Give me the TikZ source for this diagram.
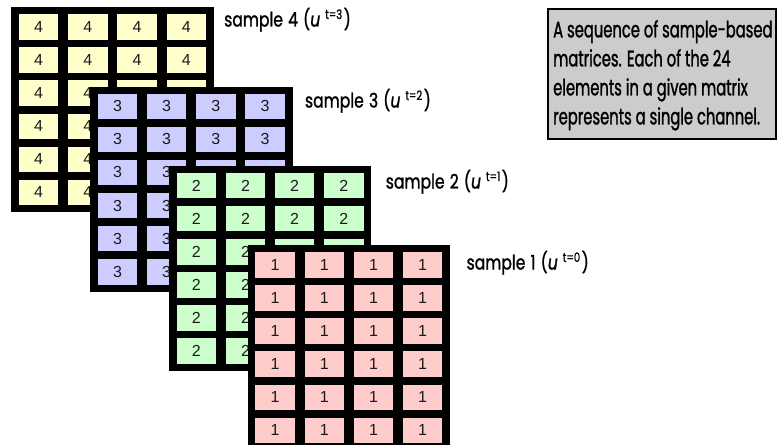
\documentclass[tikz,border=0pt]{standalone}
\usepackage{fontspec}
\setmainfont{Liberation Sans}
\newfontfamily\labfont[FakeStretch=0.78,FakeBold=1.2]{Poppins}
\newfontfamily\descfont[FakeStretch=0.655,FakeBold=1.2]{Poppins}
\definecolor{yel}{HTML}{FFFFCC}
\definecolor{blu}{HTML}{CCCCFF}
\definecolor{grn}{HTML}{CCFFCC}
\definecolor{pnk}{HTML}{FFCCCC}
\definecolor{boxgray}{HTML}{CCCCCC}
\definecolor{numcol}{HTML}{1A1A1A}
\begin{document}
\begin{tikzpicture}[x=1pt,y=-1pt,
  matbox/.style={fill=black, draw=none, minimum width=202.5pt, minimum height=205pt, inner sep=0pt, anchor=north west},
  cell/.style={draw=none, minimum width=39.5pt, minimum height=25.5pt, inner sep=0pt, anchor=north west, text=numcol, font=\fontsize{16}{16}\selectfont},
  lab/.style={anchor=base west, inner sep=0pt, font=\labfont\fontsize{20}{20}\selectfont},
  descbox/.style={draw=black, line width=2pt, fill=boxgray, anchor=north west, inner sep=0pt, minimum width=228pt, minimum height=130pt},
  desctext/.style={anchor=north west, inner sep=0pt, align=left, font=\descfont\fontsize{22.5}{29}\selectfont}
  ]
\useasboundingbox (0,0) rectangle (778,444);
\clip (0,0) rectangle (778,444);
\foreach \k/\col [count=\i from 0] in {4/yel, 3/blu, 2/grn, 1/pnk} {
  \pgfmathsetmacro\xo{11+78.8*\i}
  \pgfmathsetmacro\yo{7+79.3*\i}
  \pgfmathtruncatemacro\tt{\k-1}
  \node[matbox] (m\k) at (\xo,\yo) {};
  \foreach \r in {0,...,5} {
    \foreach \c in {0,...,3} {
      \node[cell, fill=\col] (m\k-\r-\c) at (\xo+7.7+49.2*\c, \yo+7+33.1*\r) {\k};
    }
  }
  \node[lab] (l\k) at (224+80.8*\i, 26.5+81*\i) {sample\hspace{1pt} \k\hspace{1pt} (\textit{u}\hspace{5pt}\raisebox{7.5pt}{\fontsize{13}{13}\selectfont t=\tt}\hspace{1.5pt})};
}
\node[descbox] (d) at (547,8) {};
\node[desctext] (dt) at (553,20) {A sequence of sample-based\\matrices. Each of the 24\\elements in a given matrix\\represents a single channel.};
\end{tikzpicture}
\end{document}
